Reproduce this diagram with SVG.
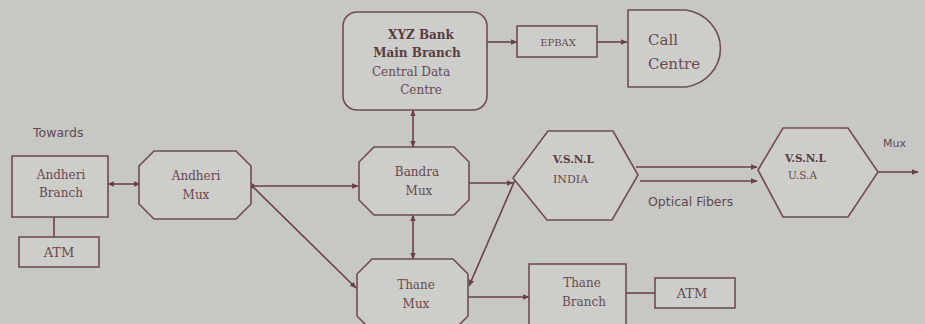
<svg xmlns="http://www.w3.org/2000/svg" width="925" height="324" viewBox="0 0 925 324">
<defs>
<marker id="ah" viewBox="0 0 10 10" refX="9" refY="5" markerWidth="7" markerHeight="7" orient="auto-start-reverse" markerUnits="userSpaceOnUse">
<path d="M0,1 L10,5 L0,9 z" fill="#6a4249"/>
</marker>
<style>
.n{fill:#cdcdca;stroke:#6f4d53;stroke-width:1.6}
.c{fill:none;stroke:#6a4249;stroke-width:1.6}
.t{font-family:"DejaVu Serif","Liberation Serif",serif;font-size:12px;fill:#674a50;text-anchor:middle}
.b{font-weight:bold;fill:#5a3c43}
.s{font-family:"DejaVu Sans","Liberation Sans",sans-serif;font-size:12.5px;fill:#5e4a52}
</style>
</defs>
<rect width="925" height="324" fill="#c7c7c4"/>
<g id="connectors">
<line class="c" x1="108" y1="184" x2="140" y2="184" marker-start="url(#ah)" marker-end="url(#ah)"/>
<line class="c" x1="54" y1="217" x2="54" y2="237"/>
<line class="c" x1="252" y1="186" x2="358" y2="186" marker-end="url(#ah)"/>
<line class="c" x1="252" y1="186" x2="356" y2="288" marker-end="url(#ah)"/>
<circle cx="252" cy="186" r="2.5" fill="#6a4249"/>
<line class="c" x1="413" y1="110" x2="413" y2="147" marker-start="url(#ah)" marker-end="url(#ah)"/>
<line class="c" x1="413" y1="215" x2="413" y2="259" marker-start="url(#ah)" marker-end="url(#ah)"/>
<line class="c" x1="487" y1="42" x2="517" y2="42" marker-end="url(#ah)"/>
<line class="c" x1="597" y1="42" x2="627" y2="42" marker-end="url(#ah)"/>
<line class="c" x1="469" y1="183" x2="513" y2="183" marker-end="url(#ah)"/>
<line class="c" x1="515" y1="180" x2="469" y2="286" marker-end="url(#ah)"/>
<line class="c" x1="468" y1="297" x2="529" y2="297" marker-end="url(#ah)"/>
<line class="c" x1="626" y1="293" x2="655" y2="293"/>
<line class="c" x1="636" y1="167" x2="757" y2="167" marker-end="url(#ah)"/>
<line class="c" x1="640" y1="181" x2="757" y2="181" marker-end="url(#ah)"/>
<line class="c" x1="878" y1="172" x2="918" y2="172" marker-end="url(#ah)"/>
</g>
<g id="towards"><text class="s" x="33" y="137">Towards</text></g>
<g id="andheri-branch">
<rect class="n" x="12" y="156" width="96" height="61"/>
<text class="t" x="61" y="179">Andheri</text>
<text class="t" x="61" y="197">Branch</text>
</g>
<g id="atm-1">
<rect class="n" x="19" y="237" width="80" height="30"/>
<text class="t" x="59" y="257" style="font-size:13px">ATM</text>
</g>
<g id="andheri-mux">
<polygon class="n" points="154,151 236,151 251,166 251,204 236,219 154,219 139,204 139,166"/>
<text class="t" x="196" y="180">Andheri</text>
<text class="t" x="196" y="199">Mux</text>
</g>
<g id="xyz-bank">
<rect class="n" x="343" y="12" width="144" height="98" rx="14"/>
<text class="t b" x="421" y="39">XYZ Bank</text>
<text class="t b" x="417" y="57">Main Branch</text>
<text class="t" x="411" y="76">Central Data</text>
<text class="t" x="421" y="94">Centre</text>
</g>
<g id="epbax">
<rect class="n" x="517" y="26" width="80" height="31"/>
<text class="t" x="558" y="46" style="font-size:10px">EPBAX</text>
</g>
<g id="call-centre">
<path class="n" d="M628,10 L686,10 A41,39 0 0 1 686,87 L628,87 Z"/>
<text class="t" x="648" y="45" style="font-size:15px;text-anchor:start">Call</text>
<text class="t" x="648" y="69" style="font-size:15px;text-anchor:start">Centre</text>
</g>
<g id="bandra-mux">
<polygon class="n" points="374,147 454,147 469,162 469,200 454,215 374,215 359,200 359,162"/>
<text class="t" x="417" y="176">Bandra</text>
<text class="t" x="419" y="195">Mux</text>
</g>
<g id="thane-mux">
<polygon class="n" points="372,259 453,259 468,274 468,316 453,331 372,331 357,316 357,274"/>
<text class="t" x="416" y="289">Thane</text>
<text class="t" x="416" y="308">Mux</text>
</g>
<g id="vsnl-india">
<polygon class="n" points="513,178 548,131 613,131 638,175 612,220 547,220"/>
<text class="t b" x="553" y="163" style="font-size:10.5px;text-anchor:start">V.S.N.L</text>
<text class="t" x="553" y="183" style="font-size:11px;text-anchor:start">INDIA</text>
</g>
<g id="optical">
<text class="s" x="648" y="206">Optical Fibers</text>
</g>
<g id="vsnl-usa">
<polygon class="n" points="758,170 783,128 848,128 878,172 848,217 783,217"/>
<text class="t b" x="785" y="162" style="font-size:10.5px;text-anchor:start">V.S.N.L</text>
<text class="t" x="788" y="179" style="font-size:10.5px;text-anchor:start">U.S.A</text>
</g>
<g id="mux-out"><text class="s" x="883" y="147" style="font-size:11px">Mux</text></g>
<g id="thane-branch">
<rect class="n" x="529" y="264" width="97" height="62"/>
<text class="t" x="582" y="287">Thane</text>
<text class="t" x="584" y="306">Branch</text>
</g>
<g id="atm-2">
<rect class="n" x="655" y="278" width="80" height="30"/>
<text class="t" x="692" y="298" style="font-size:13px">ATM</text>
</g>
</svg>
